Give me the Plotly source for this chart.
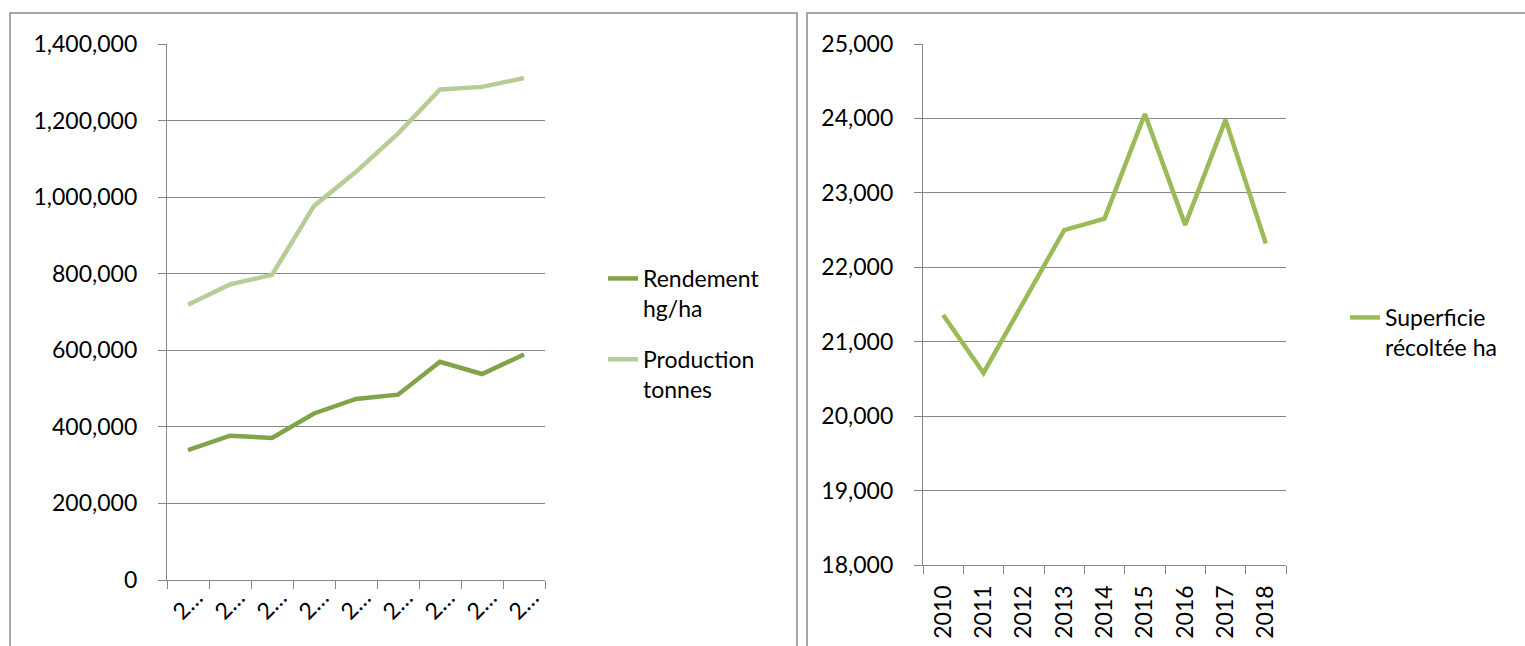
import plotly.graph_objects as go

# ---------------- data ----------------
years = ["2010", "2011", "2012", "2013", "2014", "2015", "2016", "2017", "2018"]
left_ticktext = ["2…"] * 9

rendement_hg_ha = [339000, 377000, 371000, 435000, 473000, 484000, 570000, 538000, 589000]
production_tonnes = [719000, 772000, 797000, 977000, 1066000, 1166000, 1281000, 1288000, 1311000]
superficie_ha = [21360, 20580, 21540, 22500, 22655, 24060, 22570, 23980, 22320]

name_rend = "Rendement<br>hg/ha"
name_prod = "Production<br>tonnes"
name_sup = "Superficie<br>récoltée ha"

# ---------------- styling ----------------
W, H = 1525, 646
FONT = "Lato"
FS = 23
GRID = "#868686"
C_REND = "#7fa44a"
C_PROD = "#b6cd94"
C_SUP = "#9bbb59"

def px_x(p):
    return p / W

def px_y(p):
    return 1 - p / H

fig = go.Figure()

fig.add_trace(go.Scatter(x=years, y=rendement_hg_ha, mode="lines", name=name_rend,
                         line=dict(color=C_REND, width=4.5), xaxis="x", yaxis="y",
                         legend="legend", legendgroup="r"))
fig.add_trace(go.Scatter(x=years, y=production_tonnes, mode="lines", name=name_prod,
                         line=dict(color=C_PROD, width=4.5), xaxis="x", yaxis="y",
                         legend="legend", legendgroup="p"))
fig.add_trace(go.Scatter(x=years, y=superficie_ha, mode="lines", name=name_sup,
                         line=dict(color=C_SUP, width=4.5), xaxis="x2", yaxis="y2",
                         legend="legend2"))

axis_common = dict(
    showline=True, linecolor=GRID, linewidth=1.3,
    ticks="outside", ticklen=8, tickcolor=GRID, tickwidth=1.3,
    tickfont=dict(family=FONT, size=FS, color="black"),
    zeroline=False, automargin=False,
)

fig.update_layout(
    width=W, height=H, autosize=False,
    margin=dict(l=0, r=0, t=0, b=0, pad=0, autoexpand=False),
    paper_bgcolor="white", plot_bgcolor="white",
    font=dict(family=FONT, size=FS, color="black"),
    xaxis=dict(domain=[px_x(167), px_x(545)], anchor="y", type="category",
               range=[-0.5, 8.5], tickmode="array", tickvals=years, ticktext=left_ticktext,
               tickson="boundaries", tickangle=-45, showgrid=False,
               ticklabelstandoff=-6, ticklabelshift=8, **axis_common),
    yaxis=dict(domain=[px_y(580), px_y(44)], anchor="x", range=[0, 1400000],
               dtick=200000, tickformat=",", showgrid=True, gridcolor=GRID, gridwidth=1.3,
               ticklabelstandoff=16, **axis_common),
    xaxis2=dict(domain=[px_x(923), px_x(1286)], anchor="y2", type="category",
                range=[-0.5, 8.5], tickson="boundaries", tickangle=-90, showgrid=False,
                ticklabelstandoff=10, **axis_common),
    yaxis2=dict(domain=[px_y(565), px_y(44)], anchor="x2", range=[18000, 25000],
                dtick=1000, tickformat=",", showgrid=True, gridcolor=GRID, gridwidth=1.3,
                ticklabelstandoff=16, **axis_common),
    legend=dict(x=px_x(603), y=px_y(257), xanchor="left", yanchor="top",
                font=dict(family=FONT, size=FS, color="black"),
                bgcolor="rgba(0,0,0,0)", valign="top", tracegroupgap=18,
                traceorder="grouped"),
    legend2=dict(x=px_x(1345), y=px_y(296), xanchor="left", yanchor="top",
                 font=dict(family=FONT, size=FS, color="black"),
                 bgcolor="rgba(0,0,0,0)", valign="top"),
    showlegend=True,
)

# chart area borders (Excel-like boxes)
fig.add_shape(type="rect", xref="paper", yref="paper",
              x0=px_x(10), x1=px_x(797), y0=-0.2, y1=px_y(13),
              line=dict(color="#8c8c8c", width=1.5), fillcolor="rgba(0,0,0,0)", layer="below")
fig.add_shape(type="rect", xref="paper", yref="paper",
              x0=px_x(807), x1=1.2, y0=-0.2, y1=px_y(13),
              line=dict(color="#8c8c8c", width=1.5), fillcolor="rgba(0,0,0,0)", layer="below")

fig.write_html("out.html")
